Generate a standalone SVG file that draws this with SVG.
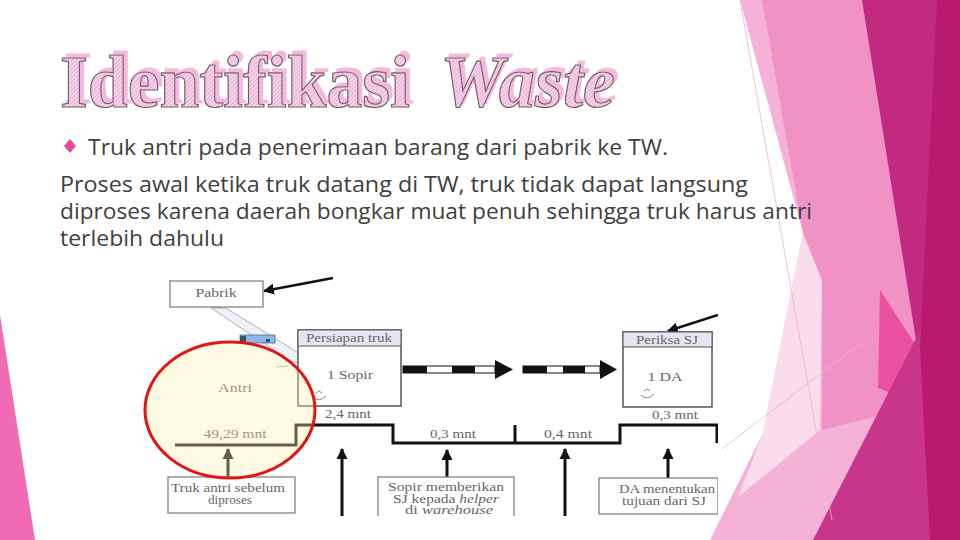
<svg xmlns="http://www.w3.org/2000/svg" width="960" height="540" viewBox="0 0 960 540">
<defs>
  <pattern id="hatch" width="3" height="3" patternUnits="userSpaceOnUse" patternTransform="rotate(45)">
    <rect width="3" height="3" fill="#F8D4EA"/>
    <line x1="0" y1="0" x2="0" y2="3" stroke="#E597C8" stroke-width="1.3"/>
  </pattern>
  <filter id="shadow" x="-5%" y="-20%" width="110%" height="140%">
    <feOffset in="SourceAlpha" dx="4" dy="-4" result="off"/>
    <feFlood flood-color="#F3BADD"/>
    <feComposite in2="off" operator="in" result="sh"/>
    <feMerge><feMergeNode in="sh"/><feMergeNode in="SourceGraphic"/></feMerge>
  </filter>
  <marker id="ah" viewBox="0 0 10 10" refX="9" refY="5" markerUnits="userSpaceOnUse" markerWidth="11" markerHeight="12" orient="auto">
    <path d="M0,0 L10,5 L0,10 z" fill="#111"/>
  </marker>
  <clipPath id="imgclip"><rect x="160" y="265" width="558" height="251"/></clipPath>
  <style>
    .body{font-family:"Open Sans","Noto Sans","DejaVu Sans",sans-serif;font-size:21px;fill:#404040}
    .ttl{font-family:"Liberation Serif","Times New Roman",serif;font-weight:bold;font-size:74px;fill:url(#hatch);stroke:#6E5F68;stroke-width:1.2}
    .d{font-family:"Liberation Serif","Times New Roman",serif;font-size:11.5px;fill:#666;text-anchor:middle}
    .box{fill:#fff;stroke:#7a7a7a;stroke-width:1.2}
    .pbox{fill:#fff;stroke:#555;stroke-width:1.5}
    .hdr{fill:#E6E6F3;stroke:#555;stroke-width:1}
    .conn{stroke:#111;stroke-width:3;fill:none}
    .thin{stroke:#E7B4D2;stroke-width:0.8;fill:none}
  </style>
</defs>

<!-- background -->
<rect width="960" height="540" fill="#fff"/>
<polygon points="0,315 35,540 0,540" fill="#F06BB4"/>
<g id="bg-right">
  <polygon points="740,0 960,0 960,540 710,540 763,433 803,233" fill="#F5B2D6"/>
  <polygon points="803,233 822,280 820,430 738,497 763,433" fill="#FADCEC"/>
  <polygon points="762,0 862,0 917,347 882,415 822,430 822,280 803,233" fill="#F192C4"/>
  <polygon points="880,290 917,347 903,398 878,388" fill="#EA52A1"/>
  <polygon points="862,0 960,0 960,540 856,540 882,415 917,347" fill="#C22A80"/>
  <polygon points="955,262 960,262 960,540 813,540" fill="#C8368A"/>
  <polygon points="937,0 960,0 960,540 930,540 920,347" fill="#B71A6F"/>
  <line class="thin" x1="740" y1="0" x2="832" y2="520"/>
  <line class="thin" x1="722" y1="449" x2="862" y2="342"/>
</g>

<!-- title -->
<g id="title" filter="url(#shadow)">
  <text class="ttl" x="60" y="107" textLength="350" lengthAdjust="spacingAndGlyphs">Identifikasi</text>
  <text class="ttl" x="440" y="107" font-style="italic" textLength="175" lengthAdjust="spacingAndGlyphs">Waste</text>
</g>

<!-- body text -->
<g id="body">
  <polygon points="70,139 76,146 70,153 64,146" fill="#E8479A"/>
  <text class="body" x="88" y="155" textLength="580" lengthAdjust="spacingAndGlyphs">Truk antri pada penerimaan barang dari pabrik ke TW.</text>
  <text class="body" x="60" y="192" textLength="688" lengthAdjust="spacingAndGlyphs">Proses awal ketika truk datang di TW, truk tidak dapat langsung</text>
  <text class="body" x="60" y="219" textLength="752" lengthAdjust="spacingAndGlyphs">diproses karena daerah bongkar muat penuh sehingga truk harus antri</text>
  <text class="body" x="60" y="246" textLength="164" lengthAdjust="spacingAndGlyphs">terlebih dahulu</text>
</g>

<!-- diagram -->
<g id="diagram" clip-path="url(#imgclip)">
  <g id="connectors">
    <path class="conn" d="M175,445 H296 V425 H393 V443 H620 V425 H717 V443"/>
    <line class="conn" x1="515" y1="425" x2="515" y2="443"/>
    <line x1="333" y1="278" x2="264" y2="291" stroke="#111" stroke-width="2.5" marker-end="url(#ah)"/>
    <line x1="718" y1="315" x2="668" y2="331" stroke="#111" stroke-width="2.5" marker-end="url(#ah)"/>
    <line class="conn" x1="228" y1="477" x2="228" y2="449" marker-end="url(#ah)"/>
    <line class="conn" x1="342" y1="520" x2="342" y2="449" marker-end="url(#ah)"/>
    <line class="conn" x1="447" y1="477" x2="447" y2="450" marker-end="url(#ah)"/>
    <line class="conn" x1="565" y1="520" x2="565" y2="449" marker-end="url(#ah)"/>
    <line class="conn" x1="668" y1="478" x2="668" y2="449" marker-end="url(#ah)"/>
    <g id="push1">
      <rect x="403" y="366" width="92" height="7" fill="#fff" stroke="#111" stroke-width="1"/>
      <rect x="403" y="366" width="24" height="7" fill="#111"/>
      <rect x="452" y="366" width="23" height="7" fill="#111"/>
      <polygon points="495,360 513,369.5 495,379" fill="#111"/>
    </g>
    <g id="push2">
      <rect x="523" y="366" width="77" height="7" fill="#fff" stroke="#111" stroke-width="1"/>
      <rect x="523" y="366" width="24" height="7" fill="#111"/>
      <rect x="563" y="366" width="22" height="7" fill="#111"/>
      <polygon points="600,360 617,369.5 600,379" fill="#111"/>
    </g>
    <polygon points="211,308 226,308 300,354 299,362 292,362" fill="#EEF2F8" stroke="#9A9A9A" stroke-width="0.8"/>
    <line x1="276" y1="367" x2="288" y2="366" stroke="#aaa" stroke-width="1.2"/>
  </g>

  <g id="truck">
    <rect x="240" y="335" width="35" height="8" fill="#8DB7EA" stroke="#4A6A90" stroke-width="0.8"/>
    <rect x="240" y="336" width="6" height="6" fill="#3D4F66"/>
    <rect x="266" y="339" width="4" height="3" fill="#3D4F66"/>
  </g>

  <g id="pabrik">
    <rect class="box" x="170" y="281" width="93" height="26"/>
    <text class="d" x="216" y="297" textLength="41" lengthAdjust="spacingAndGlyphs">Pabrik</text>
  </g>

  <g id="persiapan">
    <rect class="pbox" x="298" y="330" width="103" height="76"/>
    <rect class="hdr" x="298" y="330" width="103" height="16"/>
    <text class="d" x="349" y="342" textLength="86" lengthAdjust="spacingAndGlyphs">Persiapan truk</text>
    <text class="d" x="350" y="379" font-size="13" textLength="46" lengthAdjust="spacingAndGlyphs">1 Sopir</text>
    <path d="M313,397 q6,6 13,-1 M316,393 l3,-2 l3,2" fill="none" stroke="#888" stroke-width="1"/>
  </g>

  <g id="periksa">
    <rect class="pbox" x="623" y="332" width="89" height="75"/>
    <rect class="hdr" x="623" y="332" width="89" height="15"/>
    <text class="d" x="667" y="344" textLength="62" lengthAdjust="spacingAndGlyphs">Periksa SJ</text>
    <text class="d" x="665" y="381" font-size="13" textLength="35" lengthAdjust="spacingAndGlyphs">1 DA</text>
    <path d="M641,395 q6,6 13,-1 M644,391 l3,-2 l3,2" fill="none" stroke="#888" stroke-width="1"/>
  </g>

  <g id="labels">
    <text class="d" x="348" y="418" textLength="46" lengthAdjust="spacingAndGlyphs">2,4 mnt</text>
    <text class="d" x="453" y="438" textLength="46" lengthAdjust="spacingAndGlyphs">0,3 mnt</text>
    <text class="d" x="568" y="438" textLength="48" lengthAdjust="spacingAndGlyphs">0,4 mnt</text>
    <text class="d" x="675" y="419" textLength="46" lengthAdjust="spacingAndGlyphs">0,3 mnt</text>
  </g>

  <g id="box-antri">
    <rect class="box" x="168" y="477" width="127" height="36"/>
    <text class="d" x="228" y="492" textLength="114" lengthAdjust="spacingAndGlyphs">Truk antri sebelum</text>
    <text class="d" x="230" y="504" textLength="44" lengthAdjust="spacingAndGlyphs">diproses</text>
  </g>

  <g id="box-sopir">
    <rect class="box" x="378" y="477" width="136" height="50"/>
    <text class="d" x="446" y="491" textLength="116" lengthAdjust="spacingAndGlyphs">Sopir memberikan</text>
    <text class="d" x="446" y="503" textLength="106" lengthAdjust="spacingAndGlyphs">SJ kepada <tspan font-style="italic">helper</tspan></text>
    <text class="d" x="449" y="514" textLength="88" lengthAdjust="spacingAndGlyphs">di <tspan font-style="italic">warehouse</tspan></text>
  </g>

  <g id="box-da">
    <rect class="box" x="599" y="478" width="119" height="36"/>
    <text class="d" x="667" y="493" textLength="96" lengthAdjust="spacingAndGlyphs">DA menentukan</text>
    <text class="d" x="664" y="505" textLength="84" lengthAdjust="spacingAndGlyphs">tujuan dari SJ</text>
  </g>

  <g id="antri-text">
    <text class="d" x="235" y="392" font-size="12" textLength="34" lengthAdjust="spacingAndGlyphs">Antri</text>
    <text class="d" x="235" y="438" textLength="63" lengthAdjust="spacingAndGlyphs">49,29 mnt</text>
  </g>
</g>

<g id="antri">
  <ellipse cx="230" cy="410" rx="85" ry="68" fill="#FFF4B0" fill-opacity="0.35" stroke="#E21515" stroke-width="3"/>
</g>
</svg>
